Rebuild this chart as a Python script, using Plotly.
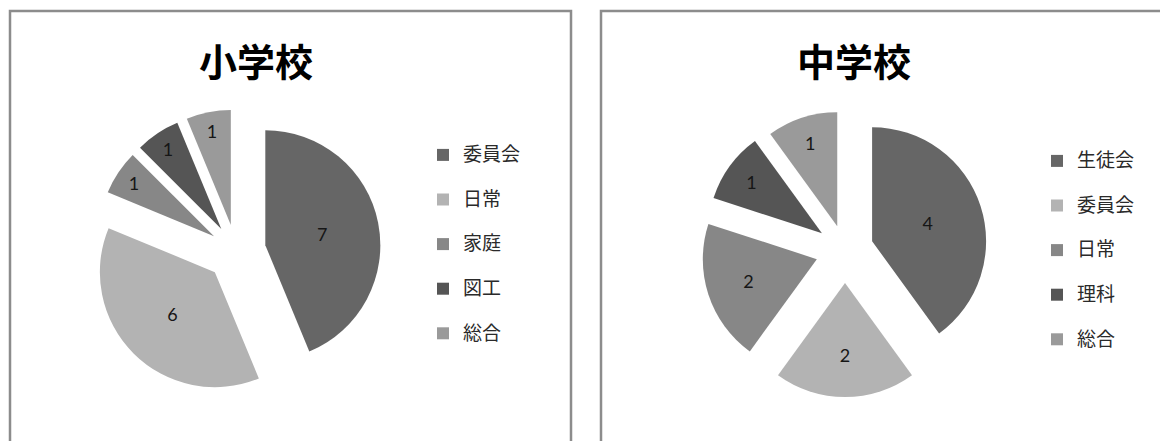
import plotly.graph_objects as go

# 小学校
elem_labels = ["委員会", "日常", "家庭", "図工", "総合"]
elem_values = [7, 6, 1, 1, 1]

# 中学校
junior_labels = ["生徒会", "委員会", "日常", "理科", "総合"]
junior_values = [4, 2, 2, 1, 1]

titles = ["小学校", "中学校"]

elem_colors = ["#666666", "#b3b3b3", "#878787", "#555555", "#9a9a9a"]
junior_colors = ["#666666", "#b3b3b3", "#878787", "#555555", "#9a9a9a"]

# how far each slice is exploded (fraction of the radius)
elem_pull = [0.26, 0.26, 0.23, 0.23, 0.23]
junior_pull = [0.25, 0.29, 0.26, 0.25, 0.22]

W, H = 1160, 441
JP = "Noto Sans CJK JP"


def px(x):
    return x / W


def py(y):
    return 1 - y / H


def legend_text(labels):
    # larger glyphs on the first line, a blank second line widens the row spacing
    return [f'<span style="font-size:19px">{c}</span><br>\u00a0' for c in labels]


def pie(labels, values, colors, pull, center, radius, legend_id):
    cx, cy = center
    half = radius * (1 + max(pull))
    return go.Pie(
        labels=legend_text(labels),
        values=values,
        sort=False,
        direction="clockwise",
        rotation=0,
        pull=pull,
        marker=dict(colors=colors, line=dict(width=0)),
        textinfo="value",
        textposition="inside",
        insidetextorientation="horizontal",
        textfont=dict(family="Lato", size=18, color="#161616"),
        domain=dict(x=[px(cx - half), px(cx + half)],
                    y=[py(cy + half), py(cy - half)]),
        legend=legend_id,
        legendgroup=legend_id,
        hoverinfo="value+percent",
    )


fig = go.Figure()
fig.add_trace(pie(elem_labels, elem_values, elem_colors, elem_pull,
                  (236, 251), 115, "legend"))
fig.add_trace(pie(junior_labels, junior_values, junior_colors, junior_pull,
                  (845, 250), 114, "legend2"))

legend_style = dict(
    font=dict(family=JP, size=16, color="#2a2a2a"),
    valign="top",
    yanchor="top",
    xanchor="left",
    bgcolor="rgba(0,0,0,0)",
    borderwidth=0,
    itemclick=False,
)

# panel frames
frames = [(10, 11, 571, 470), (601, 11, 1175, 470)]
shapes = [
    dict(type="rect", xref="paper", yref="paper",
         x0=px(x0), x1=px(x1), y0=py(y1), y1=py(y0),
         line=dict(color="#8c8c8c", width=2.5), fillcolor="rgba(0,0,0,0)")
    for x0, y0, x1, y1 in frames
]

title_pos = [(256, 59), (854, 59)]
annotations = [
    dict(text=t, x=px(x), y=py(y), xref="paper", yref="paper",
         xanchor="center", yanchor="middle", showarrow=False,
         font=dict(family=JP, size=38, color="#000000", weight="bold"))
    for t, (x, y) in zip(titles, title_pos)
]

fig.update_layout(
    width=W,
    height=H,
    margin=dict(l=0, r=0, t=0, b=0),
    paper_bgcolor="white",
    plot_bgcolor="white",
    showlegend=True,
    legend=dict(x=px(423), y=py(138), **legend_style),
    legend2=dict(x=px(1037), y=py(144), **legend_style),
    shapes=shapes,
    annotations=annotations,
)

fig.write_html("out.html")
